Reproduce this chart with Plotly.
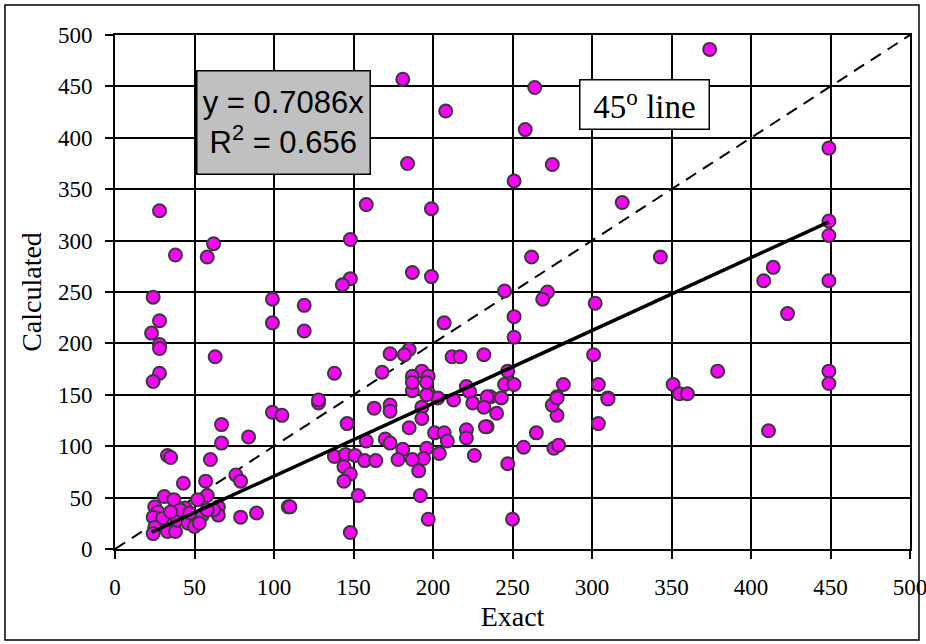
import plotly.graph_objects as go

exact = [
    28, 38, 62, 58, 24, 28, 23, 28, 28, 28, 24, 63, 99, 99, 119, 119, 138, 148, 148, 143, 158,
    199, 319, 262, 187, 199, 245, 272, 269, 302, 251, 251, 207, 185, 173, 182, 168, 193, 187, 197,
    187, 212, 217, 232, 301, 247, 245, 251, 282, 304, 221, 223, 197, 203, 236, 243, 278, 310,
    449, 449, 343, 414, 408, 449, 423, 379, 449, 449, 351, 355, 360,
    374, 449, 181, 208, 264, 258, 184, 251, 275,
    99, 105, 67, 67, 84, 33, 35, 60, 76, 79, 43, 57, 58, 31, 37, 52, 79, 89, 109, 65, 65,
    25, 27, 24, 30, 25, 24, 33, 38, 39, 44, 46, 50, 55, 53, 62, 41, 35, 47, 58,
    128, 146, 163, 173, 173, 196, 193, 193, 185, 158, 170, 173, 181, 201, 207, 209, 196, 204,
    194, 187, 178, 191, 138, 145, 151, 157, 164, 144, 148, 144, 153, 192, 197, 148,
    213, 225, 234, 232, 221, 221, 234, 226, 187, 196,
    240, 233, 257, 265, 276, 279, 247, 250, 278, 275, 278, 310, 304, 411, 128, 110
]
calculated = [
    329, 286, 297, 284, 245, 222, 210, 199, 195, 171, 163, 187, 243, 220, 237, 212, 171, 301, 263, 257, 335,
    331, 337, 284, 269, 265, 251, 250, 243, 239, 226, 206, 220, 194, 190, 189, 172, 173, 168, 168,
    154, 187, 187, 189, 189, 173, 160, 160, 160, 160, 158, 153, 152, 147, 148, 147, 148, 147,
    319, 305, 284, 274, 261, 261, 229, 173, 173, 161, 160, 151, 151,
    486, 390, 457, 426, 449, 408, 375, 358, 374,
    133, 130, 121, 103, 109, 91, 89, 87, 72, 66, 64, 66, 52, 51, 48, 48, 31, 35, 41, 41, 33,
    41, 36, 31, 30, 21, 15, 17, 17, 28, 40, 25, 22, 33, 25, 38, 38, 36, 35, 38,
    142, 122, 137, 140, 134, 150, 138, 127, 118, 105, 107, 103, 97, 113, 113, 105, 98, 93,
    88, 87, 87, 76, 90, 92, 91, 86, 86, 80, 73, 66, 52, 52, 29, 16,
    145, 142, 148, 138, 116, 108, 119, 91, 162, 162,
    132, 119, 99, 113, 98, 101, 83, 29, 130, 140, 147, 146, 122, 115, 145, 41
]

slope = 0.7086
fit_x = [min(exact), max(exact)]
fit_y = [slope * v for v in fit_x]
diag = [0, 500]

serif = "Liberation Serif, Times New Roman, serif"
sans = "Liberation Sans, Arial, sans-serif"

fig = go.Figure()
fig.add_trace(go.Scatter(x=diag, y=diag, mode="lines",
                         line=dict(color="black", width=2, dash="12px,8px"),
                         hoverinfo="skip", showlegend=False))
fig.add_trace(go.Scatter(x=exact, y=calculated, mode="markers",
                         marker=dict(color="#FF00FF", size=13,
                                     line=dict(color="#3a3a3a", width=2)),
                         showlegend=False))
fig.add_trace(go.Scatter(x=fit_x, y=fit_y, mode="lines",
                         line=dict(color="black", width=3.5),
                         hoverinfo="skip", showlegend=False))

axis_common = dict(
    showgrid=True, gridcolor="black", gridwidth=2,
    showline=True, linecolor="black", linewidth=2, mirror=True,
    ticks="outside", ticklen=8, tickwidth=2, tickcolor="black",
    zeroline=False, tickfont=dict(family=serif, size=23, color="black"),
    range=[0, 500], dtick=50, automargin=False, ticklabeloverflow="allow",
)

fig.update_layout(
    width=926, height=644,
    margin=dict(l=115, r=16, t=35, b=95),
    paper_bgcolor="white", plot_bgcolor="white",
    xaxis=dict(**axis_common, ticklabelstandoff=8,
               title=dict(text="Exact", font=dict(family=serif, size=28, color="black"), standoff=8)),
    yaxis=dict(**axis_common, ticklabelstandoff=8,
               title=dict(text="Calculated", font=dict(family=serif, size=28, color="black"), standoff=8)),
    annotations=[
        dict(xref="x", yref="y", x=106, y=415, xanchor="center", yanchor="middle",
             text="y = 0.7086x<br>R<sup>2</sup> = 0.656", showarrow=False,
             font=dict(family=sans, size=31, color="black"), width=168, height=98, valign="middle",
             bgcolor="#C0C0C0", bordercolor="black", borderwidth=1.5, borderpad=2, align="center"),
        dict(xref="x", yref="y", x=333, y=432, xanchor="center", yanchor="middle",
             text="45<sup>o</sup> line", showarrow=False,
             font=dict(family=serif, size=33, color="black"), width=124, height=44, valign="middle",
             bgcolor="white", bordercolor="black", borderwidth=1.5, borderpad=2),
    ],
    shapes=[
        dict(type="rect", xref="paper", yref="paper", x0=-0.1384, x1=1.0113, y0=-0.177, y1=1.0584,
             line=dict(color="black", width=1.5), fillcolor="rgba(0,0,0,0)", layer="below"),
    ],
)

fig.write_html("out.html", config={"displayModeBar": False},
               post_script="document.body.style.margin='0px';")
